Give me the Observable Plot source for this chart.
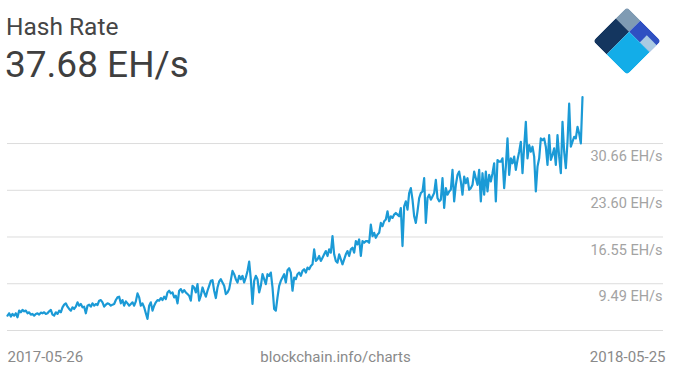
<!DOCTYPE html>
<html>
<head>
<meta charset="utf-8">
<script src="https://cdn.jsdelivr.net/npm/d3@7"></script>
<script src="https://cdn.jsdelivr.net/npm/@observablehq/plot@0.6"></script>
<style>
  html, body { margin: 0; padding: 0; background: #fff; }
  body { width: 676px; height: 389px; overflow: hidden; font-family: Roboto, sans-serif; }
  #header { display: block; }
</style>
</head>
<body>
<svg id="header" width="676" height="90" xmlns="http://www.w3.org/2000/svg">
  <text x="6" y="35" font-family="Roboto" font-size="24.5" fill="#454545">Hash Rate</text>
  <text id="current" x="5" y="77" font-family="Roboto" font-size="37" fill="#3f3f3f"></text>
  <defs>
    <clipPath id="diamondClip"><rect x="-24" y="-24" width="48" height="48" rx="4" ry="4"/></clipPath>
  </defs>
  <g transform="translate(627,41) rotate(45)" clip-path="url(#diamondClip)">
    <rect x="-24" y="-24" width="19" height="16" fill="#7f9bb3"/>
    <rect x="-24" y="-8" width="19" height="32" fill="#14365f"/>
    <rect x="-5" y="-24" width="29" height="16" fill="#2f50c2"/>
    <rect x="10" y="-18" width="14" height="10" fill="#aacae2"/>
    <rect x="-5" y="-8" width="29" height="32" fill="#13ade8"/>
  </g>
</svg>
<div id="chart"></div>
<script>
// ---- data ----
const startDate = "2017-05-26";
const endDate = "2018-05-25";
const currentLabel = "37.68 EH/s";
const caption = "blockchain.info/charts";
const gridValues = [2.43, 9.49, 16.55, 23.60, 30.66];
const tickValues = [9.49, 16.55, 23.60, 30.66];
const tickUnit = " EH/s";

// hash rate (EH/s), roughly daily, 2017-05-26 .. 2018-05-25
const hashRate = [
  4.68,5.03,4.53,4.93,4.68,5.03,4.43,5.43,5.18,5.53,
  5.33,5.43,5.03,5.18,4.83,4.93,4.68,4.93,5.03,4.83,
  5.13,5.03,5.18,4.93,5.03,5.33,5.53,4.83,4.68,5.18,
  4.93,5.43,5.18,5.93,6.33,6.53,6.03,5.68,5.43,5.93,
  5.68,6.03,6.68,6.18,6.43,5.93,6.03,5.03,6.18,6.33,
  6.03,6.53,6.18,6.43,6.28,6.93,7.03,6.68,6.03,6.33,
  6.53,6.43,6.18,6.33,6.43,7.03,7.43,7.53,6.53,7.03,
  6.18,6.83,6.53,6.18,6.43,6.68,6.18,6.83,8.03,7.43,
  6.18,6.53,5.93,5.03,4.18,6.18,6.68,
  5.43,6.18,6.68,7.03,6.93,7.33,7.03,7.53,7.18,8.18,
  8.43,8.03,8.18,7.43,7.68,6.53,8.43,8.68,8.18,8.53,
  8.18,7.93,7.68,6.93,9.18,8.93,8.18,9.43,6.93,7.68,
  8.93,8.18,7.53,8.43,9.18,9.93,10.03,8.43,7.33,8.93,
  9.83,10.18,9.68,9.18,7.93,8.18,8.68,10.03,11.43,10.93,
  10.18,9.68,10.68,10.18,10.68,9.68,10.43,11.43,12.83,10.18,
  6.43,9.93,10.68,10.18,8.18,9.18,10.93,10.18,9.43,10.93,
  10.68,11.18,8.93,5.68,5.43,7.43,9.18,9.93,10.43,10.93,
  9.68,11.53,11.83,11.18,8.43,10.43,10.18,
  10.93,11.18,10.68,11.43,11.68,11.18,11.93,11.68,12.18,12.43,
  14.68,12.93,13.18,13.68,12.93,13.43,13.93,14.43,13.68,14.68,
  14.18,16.68,13.93,12.93,12.68,13.93,13.18,12.43,13.18,13.93,
  14.43,13.68,14.68,14.93,14.18,15.93,15.43,16.18,13.68,15.93,
  15.68,15.93,15.93,15.68,18.43,16.68,17.18,16.43,16.93,17.18,
  18.68,18.18,18.93,19.18,20.43,18.93,19.68,19.43,19.93,20.18,
  19.93,19.68,20.93,15.18,21.18,21.93,20.68,23.18,23.93,22.18,
  19.68,18.68,20.43,22.43,23.18,23.43,25.43,18.68,22.43,22.93,
  22.18,22.68,23.18,25.18,22.43,21.93,22.18,
  25.43,20.93,23.93,22.93,23.43,23.68,26.68,21.93,24.43,25.93,
  26.43,24.93,22.93,25.68,24.68,25.43,23.68,23.93,24.43,26.43,
  25.43,24.43,26.68,21.93,26.18,22.93,26.43,23.43,25.93,24.93,
  26.18,27.68,21.93,28.18,27.93,27.93,28.43,23.93,27.18,31.43,
  25.93,28.43,27.68,28.68,26.68,28.18,29.43,30.93,26.18,30.18,
  33.93,28.43,30.43,29.43,30.18,28.68,23.43,27.18,28.43,31.43,
  31.18,31.43,30.18,27.43,31.93,28.18,28.93,29.93,27.43,31.93,
  28.68,26.18,33.93,29.43,26.93,30.93,36.68,30.18,30.93,31.68,
  31.43,33.18,32.18,30.68,37.68
];

// ---- build table ----
const t0 = new Date(startDate + "T00:00:00Z");
const t1 = new Date(endDate + "T00:00:00Z");
const n = hashRate.length;
const series = hashRate.map((v, i) => ({
  date: new Date(+t0 + (t1 - t0) * i / (n - 1)),
  value: v
}));

document.getElementById("current").textContent = currentLabel;

const chart = Plot.plot({
  width: 676,
  height: 299,
  marginTop: 6.57,
  marginBottom: 59,
  marginLeft: 7,
  marginRight: 13,
  style: { fontFamily: "Roboto, sans-serif", fontSize: "15px", background: "#fff", overflow: "visible" },
  x: { type: "utc", domain: [t0, t1], range: [7, 582], axis: null },
  y: { domain: [gridValues[0], hashRate[hashRate.length - 1]], axis: null },
  marks: [
    Plot.ruleY(gridValues, { stroke: "#dcdcdc", strokeWidth: 1 }),
    Plot.text(tickValues, {
      y: d => d,
      text: d => d.toFixed(2) + tickUnit,
      frameAnchor: "right",
      textAnchor: "end",
      dx: -1,
      dy: 13,
      fill: "#a3a3a3",
      fontSize: 14.5
    }),
    Plot.line(series, {
      x: "date",
      y: "value",
      stroke: "#1b9ad6",
      strokeWidth: 2.2,
      strokeLinejoin: "round"
    }),
    Plot.text([startDate], { text: d => d, frameAnchor: "bottom-left", textAnchor: "start", dy: 31.5, fill: "#8a8a8a" }),
    Plot.text([caption], { text: d => d, frameAnchor: "bottom", textAnchor: "middle", dy: 31.5, fill: "#8a8a8a" }),
    Plot.text([endDate], { text: d => d, frameAnchor: "bottom-right", textAnchor: "end", dx: 2, dy: 31.5, fill: "#8a8a8a" })
  ]
});
document.getElementById("chart").appendChild(chart);
</script>
</body>
</html>
